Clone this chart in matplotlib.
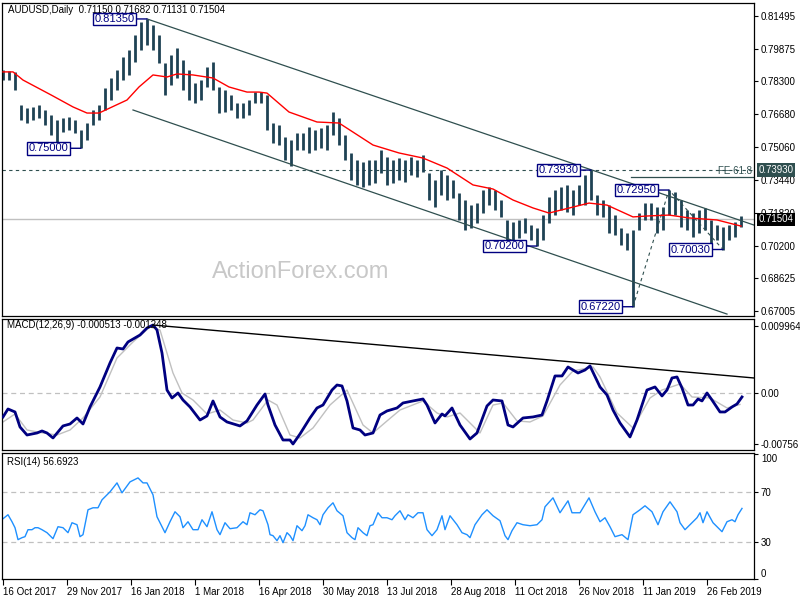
import matplotlib
matplotlib.use("Agg")
import matplotlib.pyplot as plt
import matplotlib.transforms as mtransforms

plt.rcParams['font.family'] = ['Liberation Sans', 'DejaVu Sans']

# ---------------- data ----------------
date_idx = [0, 32, 64, 96, 128, 160, 192, 224, 256, 288, 320, 352]
date_labels = ["16 Oct 2017", "29 Nov 2017", "16 Jan 2018", "1 Mar 2018", "16 Apr 2018",
               "30 May 2018", "13 Jul 2018", "28 Aug 2018", "11 Oct 2018", "26 Nov 2018",
               "11 Jan 2019", "26 Feb 2019"]

bar_high = [0.7884, 0.7879, 0.7875, 0.7712, 0.7698, 0.7703, 0.7712, 0.7688, 0.7663, 0.7639,
            0.7649, 0.7654, 0.7639, 0.7590, 0.7624, 0.7688, 0.7712, 0.7796, 0.7845, 0.7884,
            0.7948, 0.7983, 0.8056, 0.8120, 0.8135, 0.8105, 0.8056, 0.7919, 0.7958, 0.7992,
            0.7933, 0.7884, 0.7821, 0.7835, 0.7899, 0.7924, 0.7801, 0.7786, 0.7762, 0.7722,
            0.7722, 0.7737, 0.7776, 0.7776, 0.7762, 0.7624, 0.7614, 0.7555, 0.7541, 0.7575,
            0.7575, 0.7604, 0.7590, 0.7600, 0.7614, 0.7678, 0.7649, 0.7565, 0.7477, 0.7442,
            0.7433, 0.7442, 0.7442, 0.7492, 0.7457, 0.7442, 0.7452, 0.7442, 0.7457, 0.7442,
            0.7467, 0.7379, 0.7344, 0.7393, 0.7369, 0.7344, 0.7280, 0.7246, 0.7221, 0.7231,
            0.7295, 0.7310, 0.7295, 0.7246, 0.7148, 0.7138, 0.7148, 0.7158, 0.7123, 0.7109,
            0.7172, 0.7261, 0.7295, 0.7310, 0.7320, 0.7295, 0.7320, 0.7369, 0.7393, 0.7271,
            0.7246, 0.7221, 0.7172, 0.7109, 0.7084, 0.7099, 0.7182, 0.7231, 0.7231, 0.7212,
            0.7212, 0.7295, 0.7285, 0.7246, 0.7197, 0.7182, 0.7197, 0.7207, 0.7148, 0.7123,
            0.7113, 0.7123, 0.7138, 0.7168]
bar_low = [0.7835, 0.7835, 0.7786, 0.7639, 0.7624, 0.7639, 0.7649, 0.7614, 0.7565, 0.7531,
           0.7580, 0.7590, 0.7575, 0.7500, 0.7541, 0.7614, 0.7639, 0.7688, 0.7737, 0.7786,
           0.7835, 0.7860, 0.7924, 0.7983, 0.8007, 0.7983, 0.7919, 0.7762, 0.7811, 0.7845,
           0.7786, 0.7737, 0.7722, 0.7737, 0.7801, 0.7786, 0.7673, 0.7678, 0.7688, 0.7649,
           0.7649, 0.7663, 0.7722, 0.7722, 0.7590, 0.7526, 0.7516, 0.7442, 0.7413, 0.7492,
           0.7492, 0.7477, 0.7492, 0.7501, 0.7492, 0.7565, 0.7516, 0.7442, 0.7344, 0.7320,
           0.7310, 0.7320, 0.7330, 0.7379, 0.7320, 0.7330, 0.7344, 0.7334, 0.7369, 0.7359,
           0.7384, 0.7246, 0.7212, 0.7271, 0.7246, 0.7256, 0.7148, 0.7099, 0.7109, 0.7133,
           0.7182, 0.7221, 0.7197, 0.7163, 0.7050, 0.7030, 0.7059, 0.7084, 0.7050, 0.7020,
           0.7050, 0.7133, 0.7172, 0.7197, 0.7187, 0.7172, 0.7221, 0.7221, 0.7246, 0.7172,
           0.7163, 0.7084, 0.7074, 0.7025, 0.7001, 0.6722, 0.7099, 0.7148, 0.7148, 0.7084,
           0.7099, 0.7172, 0.7172, 0.7113, 0.7099, 0.7064, 0.7084, 0.7099, 0.7025, 0.7050,
           0.7003, 0.7050, 0.7064, 0.7113]
bar_step = 3  # one drawn bar per 3 trading days

ma_idx = [0, 5, 10, 24, 35, 42, 48, 62, 68, 75, 82, 87, 95, 105, 113, 122, 128, 132, 143, 157,
          168, 185, 198, 210, 222, 235, 245, 255, 265, 273, 293, 302, 315, 323, 333, 343, 357, 369]
ma_vals = [0.7875, 0.7875, 0.7835, 0.7762, 0.7703, 0.7673, 0.7673, 0.7737, 0.7801, 0.7860,
           0.7850, 0.7865, 0.7860, 0.7845, 0.7801, 0.7776, 0.7776, 0.7771, 0.7678, 0.7629,
           0.7624, 0.7516, 0.7477, 0.7452, 0.7403, 0.7320, 0.7300, 0.7246, 0.7207, 0.7182,
           0.7231, 0.7221, 0.7163, 0.7168, 0.7172, 0.7158, 0.7148, 0.7118]

price_ticks = [0.81495, 0.79875, 0.78300, 0.76680, 0.75060, 0.73440, 0.71820, 0.70200, 0.68625, 0.67005]
last_price = 0.71504
level_7393 = 0.7393
fe_level = 0.7359
fe_start = 314

channel_upper_x = [72, 375.5]
channel_upper_y = [0.8135, 0.7123]
channel_lower_x = [65, 362]
channel_lower_y = [0.7688, 0.6686]
zigzag_x = [315, 333, 360]
zigzag_y = [0.6722, 0.7295, 0.7003]

swing_idx = [72, 39, 267, 294, 315, 333, 360]
swing_price = [0.81350, 0.75000, 0.70200, 0.73930, 0.67220, 0.72950, 0.70030]

macd_idx = [0, 2.5, 6, 8.5, 12, 17, 19.5, 22, 25, 30,
            33.5, 37, 40, 43.5, 48.5, 53.5, 57, 60, 62.5, 68.5,
            72, 75, 77, 79.5, 82, 84.5, 87.5, 90, 93.5, 98.5,
            102, 105, 108.5, 112, 118.5, 122, 127, 131, 132.5, 136,
            140, 143.5, 145, 148.5, 153.5, 157, 160, 164.5, 167, 169.5,
            172, 175, 178.5, 181, 185, 188.5, 192, 197, 200, 205,
            210, 212, 216, 219.5, 221, 224.5, 228.5, 233.5, 237, 242,
            245, 249.5, 252.5, 255, 260, 265, 269.5, 272, 276, 279.5,
            282.5, 287.5, 291, 293.5, 298.5, 302, 305, 308.5, 313.5, 317,
            322, 326, 329.5, 332, 334.5, 337, 339.5, 342.5, 345, 347.5,
            349.5, 352, 354.5, 358.5, 361, 364.5, 367, 369.5]
macd_vals = [-0.00355, -0.00237, -0.00281, -0.00503, -0.00622, -0.00592, -0.00562, -0.00592, -0.00666, -0.00488,
             -0.00459, -0.00370, -0.00459, -0.00207, 0.00089, 0.00444, 0.00666, 0.00651, 0.00755, 0.00858,
             0.00962, 0.01006, 0.00932, 0.00592, 0.00044, -0.00074, 0.0, -0.00104, -0.00207, -0.00400,
             -0.00340, -0.00118, -0.00355, -0.00429, -0.00488, -0.00414, -0.00178, -0.00015, -0.00178, -0.00474,
             -0.00696, -0.00696, -0.00755, -0.00607, -0.00370, -0.00222, -0.00178, 0.00044, 0.00118, 0.00104,
             -0.00118, -0.00518, -0.00548, -0.00622, -0.00592, -0.00326, -0.00266, -0.00222, -0.00148, -0.00118,
             -0.00089, -0.00178, -0.00444, -0.00311, -0.00340, -0.00222, -0.00474, -0.00681, -0.00592, -0.00192,
             -0.00104, -0.00118, -0.00474, -0.00503, -0.00370, -0.00355, -0.00326, -0.00118, 0.00252, 0.00252,
             0.00385, 0.00296, 0.00340, 0.00400, 0.00089, -0.00030, -0.00252, -0.00444, -0.00651, -0.00400,
             0.00044, 0.00089, -0.00044, 0.00044, 0.00222, 0.00237, 0.00074, -0.00178, -0.00178, -0.00089,
             -0.00118, 0.0, -0.00104, -0.00281, -0.00281, -0.00207, -0.00163, -0.00059]
sig_idx = [0, 6, 12, 20, 27, 33.5, 40, 48.5, 57, 65,
           73.5, 78.5, 85, 89.5, 95, 102, 108.5, 115, 122, 125,
           132.5, 137, 143.5, 148.5, 155, 163.5, 172, 180, 185, 192,
           198.5, 210, 217, 222, 228.5, 238.5, 245, 250, 257, 263.5,
           270, 278.5, 285, 295, 298.5, 307, 315, 323.5, 329.5, 338.5,
           344.5, 353.5, 362, 368.5]
sig_vals = [-0.00429, -0.00311, -0.00548, -0.00592, -0.00622, -0.00548, -0.00370, -0.00059, 0.00518, 0.00755,
            0.00977, 0.00932, 0.00296, 0.0, -0.00104, -0.00311, -0.00252, -0.00400, -0.00444, -0.00400,
            -0.00104, -0.00178, -0.00622, -0.00666, -0.00518, -0.00178, 0.00044, -0.00474, -0.00592, -0.00414,
            -0.00252, -0.00118, -0.00296, -0.00355, -0.00296, -0.00592, -0.00178, -0.00148, -0.00414, -0.00429,
            -0.00340, 0.00118, 0.00326, 0.00385, 0.00237, -0.00296, -0.00518, -0.00074, 0.00044, 0.00133,
            -0.00059, -0.00074, -0.00222, -0.00170]
macd_trend_x = [75, 375.5]
macd_trend_y = [0.01006, 0.00222]
macd_ticks = [0.009964, 0.0, -0.00756]
macd_ticklabels = ["0.009964", "0.00", "-0.00756"]

rsi_idx = [0, 2.5, 4.5, 6, 7.5, 9.5, 11, 12.5, 14.5, 16,
           17.5, 19.5, 22, 25, 27.5, 30, 32.5, 34.5, 37, 38.5,
           40, 42.5, 45, 47.5, 49.5, 53.5, 57, 59.5, 63.5, 67.5,
           70, 72, 75, 77, 78.5, 81, 83.5, 86, 88.5, 90,
           92.5, 95, 97.5, 99.5, 102, 104.5, 107, 108.5, 111, 113.5,
           117, 120, 122, 123.5, 126, 128.5, 130, 132.5, 133.5, 135,
           137, 138.5, 140, 142, 143.5, 145, 147, 149.5, 151, 152.5,
           155, 157, 158.5, 160, 162.5, 165, 167, 170, 172, 174.5,
           176, 177.5, 180, 182, 183.5, 185, 187.5, 189.5, 192, 194.5,
           196, 198.5, 201, 202.5, 205, 207.5, 210, 212, 214.5, 217,
           219.5, 221, 223.5, 227, 229.5, 232, 233.5, 236, 239.5, 242,
           245, 248.5, 251, 252.5, 254.5, 257, 260, 263.5, 267, 269.5,
           271, 275, 278.5, 282.5, 284.5, 288.5, 293, 296, 298.5, 301,
           303.5, 306, 309.5, 312.5, 315, 318.5, 321, 324.5, 327.5, 330,
           333.5, 337, 338.5, 341, 343.5, 347, 348.5, 350, 352, 355,
           359.5, 362, 364.5, 366, 367.5, 369.5]
rsi_vals = [48.4, 51.6, 46.0, 41.2, 31.6, 33.2, 34.0, 39.6, 39.6, 41.2,
            41.2, 39.6, 37.2, 32.4, 42.0, 41.2, 37.2, 45.2, 43.6, 34.0,
            35.6, 55.6, 57.2, 57.2, 63.6, 70.0, 77.2, 69.2, 78.0, 81.2,
            77.2, 77.2, 67.6, 50.0, 45.2, 37.2, 46.0, 54.0, 50.0, 41.2,
            46.0, 39.6, 39.6, 47.6, 42.0, 54.0, 39.6, 35.6, 45.2, 40.4,
            41.2, 46.0, 43.6, 53.2, 51.6, 55.6, 54.8, 43.6, 35.6, 34.8,
            30.8, 34.8, 29.2, 37.2, 34.8, 30.8, 42.8, 38.8, 42.8, 51.6,
            49.2, 47.6, 43.6, 51.6, 57.2, 61.2, 54.8, 50.8, 37.2, 33.2,
            31.6, 41.2, 37.2, 34.8, 42.8, 43.6, 53.2, 49.2, 49.2, 47.6,
            50.8, 54.8, 47.6, 51.6, 49.2, 53.2, 53.2, 39.6, 34.8, 39.6,
            50.8, 39.6, 50.8, 43.6, 37.2, 35.6, 33.2, 43.6, 51.6, 55.6,
            50.8, 46.8, 34.8, 31.6, 38.8, 45.2, 43.6, 42.8, 43.6, 47.6,
            58.0, 65.2, 53.2, 62.8, 53.2, 53.2, 65.2, 54.0, 46.0, 49.2,
            42.0, 34.0, 35.6, 31.6, 51.6, 55.6, 58.8, 54.0, 43.6, 54.0,
            62.0, 54.0, 45.2, 39.6, 43.6, 49.2, 53.2, 45.2, 54.0, 45.2,
            38.0, 46.0, 47.6, 46.0, 51.6, 56.7]
rsi_ticks = [100, 70, 30, 0]

# ---------------- styles ----------------
BAR = '#1e4254'
SLATE = '#2f4f4f'
NAVY = '#000080'
W, H = 800, 600


def rect(l, t, r, b):
    return [l / W, 1 - b / H, (r - l) / W, (b - t) / H]


fig = plt.figure(figsize=(8, 6), dpi=100)
fig.patch.set_facecolor('white')
ax1 = fig.add_axes(rect(2, 3, 754, 316))
ax2 = fig.add_axes(rect(2, 319, 754, 450))
ax3 = fig.add_axes(rect(2, 453, 754, 579))

for ax in (ax1, ax2, ax3):
    ax.set_xlim(-0.5, 375.5)
    ax.yaxis.tick_right()
    ax.tick_params(axis='y', direction='out', length=3, width=0.8, labelsize=7, pad=2)
    for s in ax.spines.values():
        s.set_linewidth(0.9)
        s.set_color('black')

# ---- main price panel ----
ax1.set_ylim(0.66765, 0.82133)
ax1.set_xticks([])
ax1.set_yticks(price_ticks)
ax1.set_yticklabels([f"{v:.5f}" for v in price_ticks])

ax1.axhline(last_price, color='#c0c0c0', lw=1.0, zorder=1)
ax1.axhline(level_7393, color=SLATE, lw=0.8, ls=(0, (3, 3)), zorder=1)
ax1.plot([fe_start, 375.5], [fe_level, fe_level], color=SLATE, lw=0.9, zorder=1)
ax1.text(374.5, fe_level + 0.0003, "FE 61.8", color=SLATE, fontsize=7, ha='right', va='bottom')

bar_x = [i * bar_step for i in range(len(bar_high))]
ax1.vlines(bar_x, bar_low, bar_high, color=BAR, lw=2.0, zorder=2)
ax1.plot(ma_idx, ma_vals, color='#ff0000', lw=1.0, zorder=3)

ax1.plot(channel_upper_x, channel_upper_y, color=SLATE, lw=0.9, zorder=2)
ax1.plot(channel_lower_x, channel_lower_y, color=SLATE, lw=0.9, zorder=2)
ax1.plot(zigzag_x, zigzag_y, color=SLATE, lw=0.8, ls=(0, (3, 3)), zorder=2)

for xi, p in zip(swing_idx, swing_price):
    ax1.annotate(f"{p:.5f}", xy=(xi, p), xytext=(-9, 0), textcoords='offset points',
                 ha='right', va='center', color=NAVY, fontsize=8,
                 bbox=dict(boxstyle='square,pad=0.12', fc='white', ec=NAVY, lw=1),
                 arrowprops=dict(arrowstyle='-', color=NAVY, lw=1, shrinkA=0, shrinkB=0),
                 zorder=5)

ax1.text(0.3976, 0.1406, "ActionForex.com", transform=ax1.transAxes, fontsize=17,
         color='#c8c8c8', ha='center', va='center', zorder=0)
ax1.text(0.008, 0.978, "AUDUSD,Daily  0.71150 0.71682 0.71131 0.71504", transform=ax1.transAxes,
         fontsize=7, ha='left', va='center', color='black')

blend1 = mtransforms.blended_transform_factory(ax1.transAxes, ax1.transData)
ax1.text(1.006, level_7393, f"{level_7393:.5f}", transform=blend1, fontsize=7, color='white',
         ha='left', va='center', clip_on=False, zorder=6,
         bbox=dict(boxstyle='square,pad=0.2', fc=SLATE, ec='none'))
ax1.text(1.006, last_price, f"{last_price:.5f}", transform=blend1, fontsize=7, color='white',
         ha='left', va='center', clip_on=False, zorder=6,
         bbox=dict(boxstyle='square,pad=0.12', fc='black', ec='none'))

# ---- MACD panel ----
ax2.set_ylim(-0.00844, 0.01095)
ax2.set_xticks([])
ax2.set_yticks(macd_ticks)
ax2.set_yticklabels(macd_ticklabels)
ax2.axhline(0, color='#c0c0c0', lw=0.9, ls=(0, (4, 3)), zorder=1)
ax2.plot(sig_idx, sig_vals, color='#c0c0c0', lw=1.0, zorder=2)
ax2.plot(macd_idx, macd_vals, color=NAVY, lw=2.0, zorder=3)
ax2.plot(macd_trend_x, macd_trend_y, color='black', lw=1.0, zorder=4)
ax2.text(0.007, 0.954, "MACD(12,26,9) -0.000513 -0.001248", transform=ax2.transAxes,
         fontsize=7, ha='left', va='center', color='black')

# ---- RSI panel ----
ax3.set_ylim(0.4, 101.2)
ax3.set_yticks(rsi_ticks)
ax3.set_yticklabels([str(v) for v in rsi_ticks])
labs = ax3.get_yticklabels()
labs[0].set_va('top')
labs[-1].set_va('bottom')
for lv in (70, 30):
    ax3.axhline(lv, color='#c0c0c0', lw=0.9, ls=(0, (4, 3)), zorder=1)
ax3.plot(rsi_idx, rsi_vals, color='#1e90ff', lw=1.0, zorder=2)
ax3.text(0.007, 0.929, "RSI(14) 56.6923", transform=ax3.transAxes,
         fontsize=7, ha='left', va='center', color='black')
ax3.set_xticks(date_idx)
ax3.set_xticklabels(date_labels)
ax3.tick_params(axis='x', direction='out', length=4, width=0.8, labelsize=7, pad=2)
for lab in ax3.get_xticklabels():
    lab.set_ha('left')

fig.savefig("out.png", dpi=100, facecolor='white')
